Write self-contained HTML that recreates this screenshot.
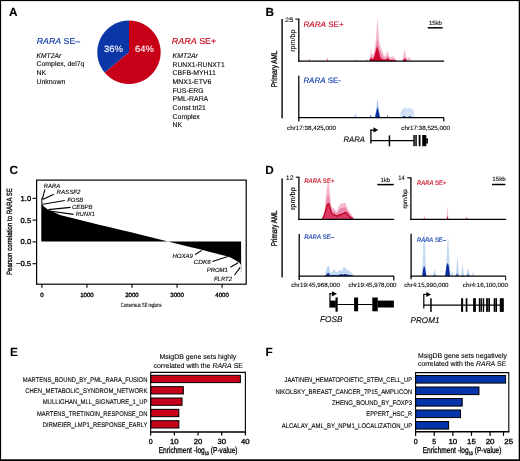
<!DOCTYPE html><html><head><meta charset="utf-8"><title>Figure</title><style>html,body{margin:0;padding:0;background:#fff;}.b{stroke-width:0.3px}svg{display:block;will-change:transform;text-rendering:geometricPrecision;font-family:"Liberation Sans",sans-serif;}</style></head><body>
<svg width="520" height="461" viewBox="0 0 520 461">
<rect x="0" y="0" width="520" height="461" fill="#fff"/>
<text stroke="#000" stroke-width="0.1" x="9.1" y="15.8" font-size="11.8" fill="#000" font-weight="bold">A</text>
<text stroke="#000" stroke-width="0.1" x="265.4" y="15.6" font-size="11.8" fill="#000" font-weight="bold">B</text>
<text stroke="#000" stroke-width="0.1" x="9.4" y="173.9" font-size="11.8" fill="#000" font-weight="bold">C</text>
<text stroke="#000" stroke-width="0.1" x="265.2" y="174.1" font-size="11.8" fill="#000" font-weight="bold">D</text>
<text stroke="#000" stroke-width="0.1" x="10" y="356.1" font-size="11.8" fill="#000" font-weight="bold">E</text>
<text stroke="#000" stroke-width="0.1" x="265.4" y="356.1" font-size="11.8" fill="#000" font-weight="bold">F</text>
<path d="M129,52.3 L129,20.6 A31.7,31.7 0 1 1 104.57,72.51 Z" fill="#C70018"/>
<path d="M129,52.3 L104.57,72.51 A31.7,31.7 0 0 1 129,20.6 Z" fill="#0B36A8"/>
<text stroke="#fff" stroke-width="0.1" x="103.9" y="51.7" font-size="9.4" fill="#fff" textLength="19" lengthAdjust="spacingAndGlyphs">36%</text>
<text stroke="#fff" stroke-width="0.1" x="135.1" y="51.7" font-size="9.4" fill="#fff" textLength="18.8" lengthAdjust="spacingAndGlyphs">64%</text>
<text stroke="#0B36A8" stroke-width="0.1" x="36.8" y="43.9" font-size="8.6" fill="#0B36A8" textLength="43.3" lengthAdjust="spacingAndGlyphs"><tspan font-style="italic">RARA</tspan> SE–</text>
<text stroke="#C70018" stroke-width="0.1" x="171.8" y="44.1" font-size="8.6" fill="#C70018" textLength="44.5" lengthAdjust="spacingAndGlyphs"><tspan font-style="italic">RARA</tspan> SE+</text>
<text stroke="#000" stroke-width="0.1" x="36.5" y="57.7" font-size="6.9" fill="#000" font-style="italic" textLength="24.7" lengthAdjust="spacingAndGlyphs">KMT2Ar</text>
<text stroke="#000" stroke-width="0.1" x="36.5" y="66.33" font-size="6.9" fill="#000" textLength="47.9" lengthAdjust="spacingAndGlyphs">Complex, del7q</text>
<text stroke="#000" stroke-width="0.1" x="36.5" y="74.96" font-size="6.9" fill="#000">NK</text>
<text stroke="#000" stroke-width="0.1" x="36.5" y="83.59" font-size="6.9" fill="#000">Unknown</text>
<text stroke="#000" stroke-width="0.1" x="172.6" y="58.1" font-size="6.9" fill="#000" font-style="italic">KMT2Ar</text>
<text stroke="#000" stroke-width="0.1" x="172.6" y="66.73" font-size="6.9" fill="#000" textLength="52.1" lengthAdjust="spacingAndGlyphs">RUNX1-RUNXT1</text>
<text stroke="#000" stroke-width="0.1" x="172.6" y="75.36" font-size="6.9" fill="#000">CBFB-MYH11</text>
<text stroke="#000" stroke-width="0.1" x="172.6" y="83.99" font-size="6.9" fill="#000">MNX1-ETV6</text>
<text stroke="#000" stroke-width="0.1" x="172.6" y="92.62" font-size="6.9" fill="#000">FUS-ERG</text>
<text stroke="#000" stroke-width="0.1" x="172.6" y="101.25" font-size="6.9" fill="#000">PML-RARA</text>
<text stroke="#000" stroke-width="0.1" x="172.6" y="109.88" font-size="6.9" fill="#000">Const tri21</text>
<text stroke="#000" stroke-width="0.1" x="172.6" y="118.51" font-size="6.9" fill="#000">Complex</text>
<text stroke="#000" stroke-width="0.1" x="172.6" y="127.14" font-size="6.9" fill="#000">NK</text>
<line x1="282.1" y1="19.1" x2="282.1" y2="118.3" stroke="#000" stroke-width="1.4"/>
<text stroke="#000" stroke-width="0.1" class="b" transform="translate(277.1,68.9) rotate(-90)" x="0" y="0" font-size="8.4" fill="#000" text-anchor="middle" textLength="36.6" lengthAdjust="spacingAndGlyphs">Primary AML</text>
<path d="M369.3,61.1 L369.3,61 L370.4,56.2 L371.2,46.5 L371.8,55.1 L373.7,54 L375.3,45.4 L376.4,31.3 L377.5,17.7 L378.6,31.3 L379.6,43.2 L381.3,48.6 L382.4,50.8 L384,56.2 L386.1,55.1 L387.8,50.2 L388.9,56.2 L391,57.3 L393.7,56.2 L395.9,59.5 L397.5,61 L397.5,61.1 Z" fill="#F6BCD2"/>
<path d="M369.6,61.1 L369.6,61 L370.6,58 L371.2,52 L371.8,57.5 L373.7,57 L375.3,51 L376.4,44 L377.3,38 L378.4,44 L379.6,50 L381.3,53.5 L382.4,55.5 L384,58.5 L386.1,58 L387.8,55 L388.9,58.5 L391,59.3 L393.7,58.8 L396,61 L396,61.1 Z" fill="#EA82A8"/>
<path d="M369.3,61.1 L369.3,61 L370.4,57.8 L371.5,59 L373.7,58.5 L375.8,50.8 L377.1,46.5 L378.6,50.8 L380.2,57.3 L382.4,59.5 L386.7,59.6 L387.8,57.8 L389.4,59.8 L395.9,60.5 L396.5,61 L396.5,61.1 Z" fill="#D0002C"/>
<path d="M402.2,61.1 L402.2,61 L403,57 L404.6,49.2 L406,55.5 L407.8,59 L409.5,56.8 L411.1,60.2 L412,61 L412,61.1 Z" fill="#F6BCD2"/>
<path d="M402.6,61.1 L402.6,61 L403.5,59.5 L404.9,58.2 L406.2,59.6 L407,61 L407,61.1 Z" fill="#D0002C"/>
<path d="M308.6,61.1 L308.6,61.1 L309.4,57.9 L310.2,61.1 L310.2,61.1 Z" fill="#EA82A8"/>
<path d="M326.5,61.1 L326.5,61.1 L327.3,56.9 L328.1,61.1 L328.1,61.1 Z" fill="#EA82A8"/>
<path d="M355.1,61.1 L355.1,61.1 L355.9,59.1 L356.7,61.1 L356.7,61.1 Z" fill="#EA82A8"/>
<path d="M366.1,61.1 L366.1,61.1 L366.9,58.9 L367.7,61.1 L367.7,61.1 Z" fill="#EA82A8"/>
<line x1="298.8" y1="19.1" x2="298.8" y2="61.8" stroke="#000" stroke-width="1.3"/>
<line x1="295.3" y1="19.1" x2="299.4" y2="19.1" stroke="#000" stroke-width="1.1"/>
<line x1="298.2" y1="61.1" x2="444.1" y2="61.1" stroke="#000" stroke-width="1.4"/>
<text stroke="#000" stroke-width="0.1" x="285.1" y="21.7" font-size="6.3" fill="#000" textLength="8.1" lengthAdjust="spacingAndGlyphs">25</text>
<text stroke="#000" stroke-width="0.1" class="" transform="translate(295.3,40.6) rotate(-90)" x="0" y="0" font-size="7" fill="#000" text-anchor="middle" textLength="22.4" lengthAdjust="spacingAndGlyphs">rpm/bp</text>
<text stroke="#C70018" stroke-width="0.1" x="303.4" y="26.8" font-size="7.8" fill="#C70018" textLength="40.3" lengthAdjust="spacingAndGlyphs"><tspan font-style="italic">RARA</tspan> SE+</text>
<text stroke="#000" stroke-width="0.1" x="428.9" y="24.7" font-size="6" fill="#000" textLength="13" lengthAdjust="spacingAndGlyphs">15kb</text>
<line x1="427.8" y1="27.8" x2="442.6" y2="27.8" stroke="#000" stroke-width="1.5"/>
<path d="M354.2,117.5 L354.2,117.5 L355,114.5 L355.5,113.3 L356,114.5 L356.8,117.5 L356.8,117.5 Z" fill="#B3CDEE"/>
<path d="M374.6,117.5 L374.6,117.5 L376.2,109 L377.1,101 L377.5,99.2 L377.9,101 L378.8,109 L380.4,117.5 L380.4,117.5 Z" fill="#A9C6EC"/>
<path d="M375,117.5 L375,117.5 L376.3,112 L377.1,108.5 L377.5,107.5 L377.9,108.5 L378.7,112 L379.9,117.5 L379.9,117.5 Z" fill="#0A2FA0"/>
<path d="M370.1,117.5 L370.1,117.5 L370.8,114.6 L371.5,117.5 L371.5,117.5 Z" fill="#0A2FA0"/>
<path d="M386.7,117.5 L386.7,117.5 L387.4,115.1 L388.1,117.5 L388.1,117.5 Z" fill="#0A2FA0"/>
<path d="M400,117.5 L400,117.5 L400.6,112.5 L401.5,114 L402.5,109.5 L403.5,112 L404.6,107.5 L405.8,110.5 L407,108.5 L408,111 L409.4,107.7 L410.5,110.5 L411.5,109 L412.1,109.8 L413,112 L414,111.5 L414.7,117.5 L414.7,117.5 Z" fill="#DCE8F7"/>
<path d="M400.6,112.5 L401.5,114 L402.5,109.5 L403.5,112 L404.6,107.5 L405.8,110.5 L407,108.5 L408,111 L409.4,107.7 L410.5,110.5 L411.5,109 L412.1,109.8 L413,112 L414,111.5" fill="none" stroke="#B5CFEF" stroke-width="0.6" stroke-linejoin="round"/>
<line x1="402.5" y1="110" x2="402.5" y2="117.5" stroke="#B5CFEF" stroke-width="0.5"/>
<line x1="404.6" y1="108" x2="404.6" y2="117.5" stroke="#B5CFEF" stroke-width="0.5"/>
<line x1="407" y1="109" x2="407" y2="117.5" stroke="#B5CFEF" stroke-width="0.5"/>
<line x1="409.4" y1="108.2" x2="409.4" y2="117.5" stroke="#B5CFEF" stroke-width="0.5"/>
<line x1="411.5" y1="109.5" x2="411.5" y2="117.5" stroke="#B5CFEF" stroke-width="0.5"/>
<line x1="412.1" y1="110.3" x2="412.1" y2="117.5" stroke="#B5CFEF" stroke-width="0.5"/>
<path d="M402.6,117.5 L402.6,117.5 L403.5,116 L405.2,116.2 L406,117.5 L406,117.5 Z" fill="#0A2FA0"/>
<path d="M408,117.5 L408,117.5 L409,116.2 L410.5,116.2 L411.2,117.5 L411.2,117.5 Z" fill="#0A2FA0"/>
<line x1="298.8" y1="75.7" x2="298.8" y2="121.6" stroke="#000" stroke-width="1.3"/>
<line x1="298.2" y1="117.6" x2="443.8" y2="117.6" stroke="#000" stroke-width="1.4"/>
<line x1="443.8" y1="117.5" x2="443.8" y2="121.4" stroke="#000" stroke-width="1.2"/>
<text stroke="#0B36A8" stroke-width="0.1" x="303.4" y="83.4" font-size="7.8" fill="#0B36A8" textLength="37.5" lengthAdjust="spacingAndGlyphs"><tspan font-style="italic">RARA</tspan> SE-</text>
<text stroke="#000" stroke-width="0.1" x="287" y="129.5" font-size="6.1" fill="#000" textLength="48.9" lengthAdjust="spacingAndGlyphs">chr17:38,425,000</text>
<text stroke="#000" stroke-width="0.1" x="401.3" y="129.5" font-size="6.1" fill="#000" textLength="48.7" lengthAdjust="spacingAndGlyphs">chr17:38,525,000</text>
<text stroke="#000" stroke-width="0.1" x="343.5" y="141.7" font-size="8" fill="#000" font-style="italic" textLength="21.3" lengthAdjust="spacingAndGlyphs">RARA</text>
<line x1="370.9" y1="129.6" x2="370.9" y2="143.5" stroke="#000" stroke-width="1.3"/>
<line x1="370.3" y1="130.2" x2="374.5" y2="130.2" stroke="#000" stroke-width="1.2"/>
<path d="M373.5,127.3 L378.2,129.9 L373.5,132.5 Z" fill="#000"/>
<line x1="370.9" y1="140.6" x2="413.8" y2="140.6" stroke="#000" stroke-width="1.3"/>
<rect x="388.7" y="135.4" width="1.5" height="10.9" fill="#000"/>
<rect x="413.3" y="135" width="1.5" height="11.2" fill="#000"/>
<rect x="415.3" y="135" width="1.5" height="11.2" fill="#000"/>
<rect x="418.7" y="135" width="1.8" height="11.2" fill="#000"/>
<rect x="422.2" y="135" width="4.1" height="11.2" fill="#000"/>
<rect x="426.2" y="138.3" width="1.7" height="5.2" fill="#000"/>
<path d="M41.3,241.5 L41.3,197.9 L42,198.2 L42.3,204 L43,205.5 L44.5,207 L47.8,209.6 L51,210.9 L54.3,212.5 L57.5,213.8 L60,215.1 L70,217.6 L80,220 L90,222.5 L100,224.9 L110,227.3 L120,229.7 L130,232.1 L140,234.6 L150,237 L160,239.6 L167,241.3 L180,244.4 L190,246.9 L201,249.6 L210,251.9 L220,254.4 L227.1,256.2 L231,257.8 L235.3,260.2 L238,261.8 L239.4,262.7 L240.5,264 L241.1,265.3 L241.1,241.5 Z" fill="#000"/>
<line x1="241.2" y1="264" x2="241.2" y2="272.5" stroke="#999" stroke-width="0.6"/>
<rect x="41.3" y="197.8" width="1" height="6.5" fill="#555"/>
<rect x="36.6" y="180.1" width="209.6" height="104.1" fill="none" stroke="#000" stroke-width="1.2"/>
<line x1="32.5" y1="198.3" x2="36.6" y2="198.3" stroke="#000" stroke-width="1.1"/>
<text stroke="#000" stroke-width="0.1" x="31.2" y="200.7" font-size="7.2" fill="#000" text-anchor="end" textLength="10.6" lengthAdjust="spacingAndGlyphs" class="b">1.0</text>
<line x1="32.5" y1="220.1" x2="36.6" y2="220.1" stroke="#000" stroke-width="1.1"/>
<text stroke="#000" stroke-width="0.1" x="31.2" y="222.5" font-size="7.2" fill="#000" text-anchor="end" textLength="10.6" lengthAdjust="spacingAndGlyphs" class="b">0.5</text>
<line x1="32.5" y1="241.9" x2="36.6" y2="241.9" stroke="#000" stroke-width="1.1"/>
<text stroke="#000" stroke-width="0.1" x="31.2" y="244.3" font-size="7.2" fill="#000" text-anchor="end" textLength="10.6" lengthAdjust="spacingAndGlyphs" class="b">0.0</text>
<line x1="32.5" y1="263.7" x2="36.6" y2="263.7" stroke="#000" stroke-width="1.1"/>
<text stroke="#000" stroke-width="0.1" x="31.2" y="266.1" font-size="7.2" fill="#000" text-anchor="end" textLength="15.3" lengthAdjust="spacingAndGlyphs" class="b">−0.5</text>
<line x1="41.9" y1="284.2" x2="41.9" y2="287.8" stroke="#000" stroke-width="1.1"/>
<text stroke="#000" stroke-width="0.1" x="41.9" y="297.1" font-size="6.1" fill="#000" text-anchor="middle" textLength="3.4" lengthAdjust="spacingAndGlyphs" class="b">0</text>
<line x1="86.95" y1="284.2" x2="86.95" y2="287.8" stroke="#000" stroke-width="1.1"/>
<text stroke="#000" stroke-width="0.1" x="86.95" y="297.1" font-size="6.1" fill="#000" text-anchor="middle" textLength="13.5" lengthAdjust="spacingAndGlyphs" class="b">1000</text>
<line x1="132" y1="284.2" x2="132" y2="287.8" stroke="#000" stroke-width="1.1"/>
<text stroke="#000" stroke-width="0.1" x="132" y="297.1" font-size="6.1" fill="#000" text-anchor="middle" textLength="13.5" lengthAdjust="spacingAndGlyphs" class="b">2000</text>
<line x1="177.05" y1="284.2" x2="177.05" y2="287.8" stroke="#000" stroke-width="1.1"/>
<text stroke="#000" stroke-width="0.1" x="177.05" y="297.1" font-size="6.1" fill="#000" text-anchor="middle" textLength="13.5" lengthAdjust="spacingAndGlyphs" class="b">3000</text>
<line x1="222.1" y1="284.2" x2="222.1" y2="287.8" stroke="#000" stroke-width="1.1"/>
<text stroke="#000" stroke-width="0.1" x="222.1" y="297.1" font-size="6.1" fill="#000" text-anchor="middle" textLength="13.5" lengthAdjust="spacingAndGlyphs" class="b">4000</text>
<text stroke="#000" stroke-width="0.1" x="120.8" y="306.6" font-size="6" fill="#000" textLength="40.8" lengthAdjust="spacingAndGlyphs">Consensus SE regions</text>
<text stroke="#000" stroke-width="0.1" class="b" transform="translate(12.4,231.6) rotate(-90)" x="0" y="0" font-size="7.6" fill="#000" text-anchor="middle" textLength="86.8" lengthAdjust="spacingAndGlyphs">Pearson correlation to RARA SE</text>
<text stroke="#000" stroke-width="0.1" x="43.8" y="187.8" font-size="6" fill="#000" font-style="italic" textLength="16.4" lengthAdjust="spacingAndGlyphs">RARA</text>
<text stroke="#000" stroke-width="0.1" x="56.5" y="194.4" font-size="6" fill="#000" font-style="italic" textLength="23.9" lengthAdjust="spacingAndGlyphs">RASSF2</text>
<text stroke="#000" stroke-width="0.1" x="67.2" y="201.7" font-size="6" fill="#000" font-style="italic" textLength="16.1" lengthAdjust="spacingAndGlyphs">FOSB</text>
<text stroke="#000" stroke-width="0.1" x="72" y="209.2" font-size="6" fill="#000" font-style="italic" textLength="20.5" lengthAdjust="spacingAndGlyphs">CEBPB</text>
<text stroke="#000" stroke-width="0.1" x="75.8" y="215.8" font-size="6" fill="#000" font-style="italic" textLength="19" lengthAdjust="spacingAndGlyphs">RUNX1</text>
<text stroke="#000" stroke-width="0.1" x="172.4" y="257.8" font-size="6" fill="#000" font-style="italic" textLength="20.4" lengthAdjust="spacingAndGlyphs">HOXA9</text>
<text stroke="#000" stroke-width="0.1" x="193.6" y="263.5" font-size="6" fill="#000" font-style="italic" textLength="17.2" lengthAdjust="spacingAndGlyphs">CDK6</text>
<text stroke="#000" stroke-width="0.1" x="206.7" y="271.7" font-size="6" fill="#000" font-style="italic" textLength="21.2" lengthAdjust="spacingAndGlyphs">PROM1</text>
<text stroke="#000" stroke-width="0.1" x="214" y="280.7" font-size="6" fill="#000" font-style="italic" textLength="18" lengthAdjust="spacingAndGlyphs">FLRT2</text>
<line x1="42.4" y1="198.8" x2="44.9" y2="189.3" stroke="#000" stroke-width="1.1"/>
<line x1="42.6" y1="199.6" x2="53.9" y2="194.2" stroke="#000" stroke-width="1.1"/>
<line x1="42.8" y1="204.2" x2="64.8" y2="200.5" stroke="#000" stroke-width="1.1"/>
<line x1="48.4" y1="209.6" x2="70.6" y2="207.4" stroke="#000" stroke-width="1.1"/>
<line x1="49.3" y1="211" x2="73.5" y2="214.4" stroke="#000" stroke-width="1.1"/>
<line x1="195.2" y1="254.5" x2="201.8" y2="250.4" stroke="#000" stroke-width="1.1"/>
<line x1="212.4" y1="261.4" x2="227.9" y2="256.5" stroke="#000" stroke-width="1.1"/>
<line x1="230.4" y1="267.3" x2="238.2" y2="262.7" stroke="#000" stroke-width="1.1"/>
<line x1="234.5" y1="275" x2="240.2" y2="267.3" stroke="#000" stroke-width="1.1"/>
<line x1="282.1" y1="178.6" x2="282.1" y2="277.6" stroke="#000" stroke-width="1.4"/>
<text stroke="#000" stroke-width="0.1" class="b" transform="translate(277.1,228.3) rotate(-90)" x="0" y="0" font-size="8.4" fill="#000" text-anchor="middle" textLength="35.8" lengthAdjust="spacingAndGlyphs">Primary AML</text>
<path d="M321.7,219.4 L321.7,219.4 L323.5,214.5 L324.6,209.5 L325.5,200 L326.5,189.5 L327.5,184 L328.4,181.8 L329.2,184 L329.8,192.3 L330.5,200 L331.2,205.7 L332.5,207.5 L334.1,208.6 L335.5,210.5 L337,211.4 L338.5,207 L339.8,204.7 L341.2,203.5 L342.7,203.3 L344.2,202.8 L345.6,203.3 L346.5,205.5 L347.5,208.6 L349.5,211.5 L351.3,214.3 L353,216.5 L354.2,218.1 L355,219.4 L355,219.4 Z" fill="#F6BCD2"/>
<path d="M322,219.4 L322,219.4 L323.5,216 L324.6,212.5 L325.5,207 L326.5,200 L327.5,196 L328.4,195 L329.2,197 L329.8,201 L330.5,205.5 L331.2,208.5 L332.5,210.5 L334.1,211.5 L335.5,212.8 L337,213.2 L338.5,211 L339.8,209 L341.2,208 L342.7,207.8 L344.2,207.2 L345.6,207.8 L347.5,211 L349.5,213.5 L351.3,215.8 L353,217.5 L354.5,219.4 L354.5,219.4 Z" fill="#EA86AA"/>
<path d="M322.3,219.4 L322.3,219 L323.8,216.5 L325.5,211.4 L326.5,207.5 L327.4,204.7 L328.4,203.8 L329.2,204.6 L329.8,206.7 L330.5,209.8 L331.2,212.6 L332.5,214 L334.1,214.8 L335.5,215.6 L337,216 L338.5,215.3 L339.8,214.8 L341.2,214.3 L342.7,213.8 L344.2,213 L345.6,212.4 L346.8,213.2 L348,215.2 L349.5,216.6 L351.3,218.1 L353,218.9 L353,219.4 Z" fill="#DA3A69"/>
<path d="M322.3,219 L323.8,216.5 L325.5,211.4 L326.5,207.5 L327.4,204.7 L328.4,203.8 L329.2,204.6 L329.8,206.7 L330.5,209.8 L331.2,212.6 L332.5,214 L334.1,214.8 L335.5,215.6 L337,216 L338.5,215.3 L339.8,214.8 L341.2,214.3 L342.7,213.8 L344.2,213 L345.6,212.4 L346.8,213.2 L348,215.2 L349.5,216.6 L351.3,218.1 L353,218.9" fill="none" stroke="#C4001E" stroke-width="1.3" stroke-linejoin="round"/>
<path d="M357.5,219.4 L357.5,219.4 L358.5,218.6 L359.5,219.4 L359.5,219.4 Z" fill="#EA82A8"/>
<path d="M362,219.4 L362,219.4 L363,218.6 L364,219.4 L364,219.4 Z" fill="#EA82A8"/>
<path d="M367,219.4 L367,219.4 L368,218.8 L369,219.4 L369,219.4 Z" fill="#EA82A8"/>
<line x1="298.9" y1="177.2" x2="298.9" y2="220.1" stroke="#000" stroke-width="1.3"/>
<line x1="295.8" y1="177.2" x2="299.5" y2="177.2" stroke="#000" stroke-width="1.1"/>
<line x1="298.3" y1="219.4" x2="394.2" y2="219.4" stroke="#000" stroke-width="1.3"/>
<text stroke="#000" stroke-width="0.1" x="285.8" y="180.2" font-size="6.6" fill="#000" textLength="7.8" lengthAdjust="spacingAndGlyphs">12</text>
<text stroke="#000" stroke-width="0.1" class="" transform="translate(295.3,198.7) rotate(-90)" x="0" y="0" font-size="7" fill="#000" text-anchor="middle" textLength="22.8" lengthAdjust="spacingAndGlyphs">rpm/bp</text>
<text stroke="#C70018" stroke-width="0.1" x="304.2" y="182.7" font-size="6.4" fill="#C70018" textLength="30.4" lengthAdjust="spacingAndGlyphs"><tspan font-style="italic">RARA</tspan> SE+</text>
<text stroke="#000" stroke-width="0.1" x="380.8" y="181.5" font-size="6" fill="#000" textLength="9.6" lengthAdjust="spacingAndGlyphs">1kb</text>
<line x1="377.3" y1="184.6" x2="393.8" y2="184.6" stroke="#000" stroke-width="1.5"/>
<path d="M324.3,276.1 L324.3,276.1 L325.5,274.5 L326.5,270.7 L327.4,267.5 L328.2,266 L329,267.5 L329.4,270.7 L330.5,272.5 L331.5,273.7 L332.8,271.5 L334.1,269.4 L335.2,271.5 L336.2,273.2 L337.1,272.8 L337.9,272 L339,271 L340,270.3 L341,271.2 L341.7,271.5 L343,269 L344.2,267.1 L345.3,268.5 L346.3,269.8 L347.8,270.5 L349.3,271.1 L350.5,272.5 L351.8,273.7 L353.2,274.8 L354.4,276.1 L354.4,276.1 Z" fill="#C4DAF3"/>
<path d="M325.5,274.5 L326.5,270.7 L327.4,267.5 L328.2,266 L329,267.5 L329.4,270.7 L330.5,272.5 L331.5,273.7 L332.8,271.5 L334.1,269.4 L335.2,271.5 L336.2,273.2 L337.1,272.8 L337.9,272 L339,271 L340,270.3 L341,271.2 L341.7,271.5 L343,269 L344.2,267.1 L345.3,268.5 L346.3,269.8 L347.8,270.5 L349.3,271.1 L350.5,272.5 L351.8,273.7 L353.2,274.8" fill="none" stroke="#9EC0EA" stroke-width="0.5" stroke-linejoin="round"/>
<path d="M325,276.1 L325,276.1 L326.5,274.6 L327.4,273.4 L328.2,272.8 L329,273.6 L329.8,275.2 L331.5,275.3 L333.2,274.9 L335,275.3 L337,275.2 L339.2,274.9 L340.4,273.9 L342,274.6 L343.5,274.5 L345.1,274.1 L347,274.6 L349.5,274.9 L351.8,275.3 L353,276.1 L353,276.1 Z" fill="#0A2FA0"/>
<line x1="299.2" y1="234.1" x2="299.2" y2="280" stroke="#000" stroke-width="1.3"/>
<line x1="298.6" y1="276.1" x2="394" y2="276.1" stroke="#000" stroke-width="1.3"/>
<line x1="393.8" y1="276.1" x2="393.8" y2="280.4" stroke="#000" stroke-width="1.2"/>
<text stroke="#0B36A8" stroke-width="0.1" x="304.2" y="239.2" font-size="6.4" fill="#0B36A8" textLength="30" lengthAdjust="spacingAndGlyphs"><tspan font-style="italic">RARA</tspan> SE–</text>
<text stroke="#000" stroke-width="0.1" x="291.2" y="286.9" font-size="6.1" fill="#000" textLength="48.8" lengthAdjust="spacingAndGlyphs">chr19:45,968,000</text>
<text stroke="#000" stroke-width="0.1" x="348.5" y="286.9" font-size="6.1" fill="#000" textLength="48" lengthAdjust="spacingAndGlyphs">chr19:45,978,000</text>
<line x1="329.95" y1="293.5" x2="329.95" y2="301" stroke="#000" stroke-width="1.2"/>
<line x1="329.4" y1="293.75" x2="333" y2="293.75" stroke="#000" stroke-width="1.1"/>
<path d="M332.0,291.2 L337.0,293.8 L332.0,296.5 Z" fill="#000"/>
<rect x="329.4" y="300.6" width="6.4" height="7" fill="#000"/>
<rect x="335.5" y="297.4" width="2.2" height="14.3" fill="#000"/>
<line x1="337.6" y1="304.5" x2="372.5" y2="304.5" stroke="#000" stroke-width="1.2"/>
<rect x="354.1" y="297.5" width="4" height="13.8" fill="#000"/>
<rect x="372.3" y="297.5" width="5.5" height="13.8" fill="#000"/>
<rect x="377.8" y="300.6" width="16.1" height="6.9" fill="#000"/>
<text stroke="#000" stroke-width="0.1" x="320" y="322.2" font-size="8.2" fill="#000" font-style="italic" textLength="22.5" lengthAdjust="spacingAndGlyphs">FOSB</text>
<path d="M446.5,219.4 L446.5,219.4 L447,212 L447.5,206.5 L448,212 L448.5,219.4 L448.5,219.4 Z" fill="#F6BCD2"/>
<path d="M446.7,219.4 L446.7,219.4 L447.5,215.7 L448.3,219.4 L448.3,219.4 Z" fill="#D0002C"/>
<path d="M423.4,219.4 L423.4,219.4 L424.3,215.7 L425.2,219.4 L425.2,219.4 Z" fill="#EA82A8"/>
<path d="M433.5,219.4 L433.5,219.4 L434.4,218.5 L435.3,219.4 L435.3,219.4 Z" fill="#EA82A8"/>
<path d="M456.5,219.4 L456.5,219.4 L457.4,218.5 L458.3,219.4 L458.3,219.4 Z" fill="#EA82A8"/>
<path d="M465.3,219.4 L465.3,219.4 L466.2,216 L467.1,219.4 L467.1,219.4 Z" fill="#EA82A8"/>
<path d="M466.8,219.4 L466.8,219.4 L467.7,217.4 L468.6,219.4 L468.6,219.4 Z" fill="#EA82A8"/>
<path d="M439.6,219.4 L439.6,219.4 L440.5,218.9 L441.4,219.4 L441.4,219.4 Z" fill="#EA82A8"/>
<line x1="410.9" y1="177.8" x2="410.9" y2="220" stroke="#000" stroke-width="1.3"/>
<line x1="407.2" y1="177.8" x2="411.5" y2="177.8" stroke="#000" stroke-width="1.1"/>
<line x1="410.3" y1="219.4" x2="506.2" y2="219.4" stroke="#000" stroke-width="1.3"/>
<text stroke="#000" stroke-width="0.1" x="398.2" y="180.1" font-size="6.6" fill="#000" textLength="6.5" lengthAdjust="spacingAndGlyphs">14</text>
<text stroke="#000" stroke-width="0.1" class="" transform="translate(407.2,198.9) rotate(-90)" x="0" y="0" font-size="6.2" fill="#000" text-anchor="middle" textLength="19.2" lengthAdjust="spacingAndGlyphs">rpm/bp</text>
<text stroke="#C70018" stroke-width="0.1" x="416.9" y="185.2" font-size="6.4" fill="#C70018" textLength="29.6" lengthAdjust="spacingAndGlyphs"><tspan font-style="italic">RARA</tspan> SE+</text>
<text stroke="#000" stroke-width="0.1" x="492.3" y="181.2" font-size="6" fill="#000" textLength="13.5" lengthAdjust="spacingAndGlyphs">15kb</text>
<line x1="492" y1="184.5" x2="505.4" y2="184.5" stroke="#000" stroke-width="1.5"/>
<path d="M421.8,276.1 L421.8,276.1 L422.6,265.08 L423.85,233 L424.2,232 L424.55,233 L425.8,265.08 L426.6,276.1 L426.6,276.1 Z" fill="#C4DAF3"/>
<path d="M445.3,276.1 L445.3,276.1 L446.1,266.38 L447.55,238.2 L447.9,237.2 L448.25,238.2 L449.7,266.38 L450.5,276.1 L450.5,276.1 Z" fill="#C4DAF3"/>
<path d="M455.3,276.1 L455.3,276.1 L456.1,271.58 L457.2,259 L457.5,258 L457.8,259 L458.9,271.58 L459.7,276.1 L459.7,276.1 Z" fill="#C4DAF3"/>
<path d="M460.5,276.1 L460.5,276.1 L461.3,273.3 L462.2,265.9 L462.5,264.9 L462.8,265.9 L463.7,273.3 L464.5,276.1 L464.5,276.1 Z" fill="#C4DAF3"/>
<path d="M465.9,276.1 L465.9,276.1 L466.7,274.03 L467.8,268.8 L468.1,267.8 L468.4,268.8 L469.5,274.03 L470.3,276.1 L470.3,276.1 Z" fill="#C4DAF3"/>
<path d="M432.6,276.1 L432.6,276.1 L433.4,274.33 L434.2,270 L434.6,269 L435,270 L435.8,274.33 L436.6,276.1 L436.6,276.1 Z" fill="#C4DAF3"/>
<path d="M450.2,276.1 L450.2,276.1 L451,274.83 L451.6,272 L452,271 L452.4,272 L453,274.83 L453.8,276.1 L453.8,276.1 Z" fill="#C4DAF3"/>
<path d="M471.3,276.1 L471.3,276.1 L472.1,275.08 L472.6,273 L473,272 L473.4,273 L473.9,275.08 L474.7,276.1 L474.7,276.1 Z" fill="#C4DAF3"/>
<path d="M422.1,276.1 L422.1,276.1 L423.35,268.1 L424.2,266.1 L425.05,268.1 L426.3,276.1 L426.3,276.1 Z" fill="#0A2FA0"/>
<path d="M445.1,276.1 L445.1,276.1 L446.55,265 L447.6,263 L448.65,265 L450.1,276.1 L450.1,276.1 Z" fill="#0A2FA0"/>
<path d="M455.5,276.1 L455.5,276.1 L456.5,275 L457.1,273 L457.7,275 L458.7,276.1 L458.7,276.1 Z" fill="#0A2FA0"/>
<path d="M466.5,276.1 L466.5,276.1 L467.5,275.6 L468.1,273.6 L468.7,275.6 L469.7,276.1 L469.7,276.1 Z" fill="#0A2FA0"/>
<path d="M433.2,276.1 L433.2,276.1 L434.1,276.1 L434.6,274.1 L435.1,276.1 L436,276.1 L436,276.1 Z" fill="#0A2FA0"/>
<path d="M461.6,276.1 L461.6,276.1 L462.5,276.8 L463,274.8 L463.5,276.8 L464.4,276.1 L464.4,276.1 Z" fill="#0A2FA0"/>
<line x1="411.1" y1="233.7" x2="411.1" y2="279.3" stroke="#000" stroke-width="1.3"/>
<line x1="410.5" y1="276.1" x2="505.7" y2="276.1" stroke="#000" stroke-width="1.3"/>
<line x1="505.7" y1="276.1" x2="505.7" y2="280.2" stroke="#000" stroke-width="1"/>
<text stroke="#0B36A8" stroke-width="0.1" x="417" y="241.5" font-size="6.4" fill="#0B36A8" textLength="29" lengthAdjust="spacingAndGlyphs"><tspan font-style="italic">RARA</tspan> SE–</text>
<text stroke="#000" stroke-width="0.1" x="404.2" y="286.8" font-size="6.1" fill="#000" textLength="44.3" lengthAdjust="spacingAndGlyphs">chr4:15,990,000</text>
<text stroke="#000" stroke-width="0.1" x="462.8" y="286.8" font-size="6.1" fill="#000" textLength="45.2" lengthAdjust="spacingAndGlyphs">chr4:16,100,000</text>
<line x1="423.8" y1="294" x2="423.8" y2="308.6" stroke="#000" stroke-width="1.2"/>
<line x1="423.2" y1="294.4" x2="427.5" y2="294.4" stroke="#000" stroke-width="1.1"/>
<path d="M426.3,292.1 L431.1,294.6 L426.3,297.1 Z" fill="#000"/>
<line x1="423.8" y1="305.2" x2="503.6" y2="305.2" stroke="#000" stroke-width="1.2"/>
<rect x="430.2" y="298.3" width="1.5" height="13.6" fill="#000"/>
<rect x="461.1" y="298.2" width="2" height="13.7" fill="#000"/>
<rect x="465.7" y="298.2" width="1.7" height="13.7" fill="#000"/>
<rect x="473.1" y="298.2" width="2.8" height="13.7" fill="#000"/>
<rect x="478.8" y="298.2" width="1.6" height="13.7" fill="#000"/>
<rect x="480.6" y="298.2" width="1.3" height="13.7" fill="#000"/>
<rect x="482.7" y="298.2" width="1.5" height="13.7" fill="#000"/>
<rect x="486.1" y="298.2" width="1.8" height="13.7" fill="#000"/>
<rect x="488.3" y="298.2" width="1.7" height="13.7" fill="#000"/>
<rect x="493.7" y="298.2" width="1.9" height="13.7" fill="#000"/>
<rect x="495.7" y="298.2" width="1.3" height="13.7" fill="#000"/>
<rect x="499.8" y="298.2" width="4" height="13.7" fill="#000"/>
<text stroke="#000" stroke-width="0.1" x="410.6" y="322.5" font-size="8.2" fill="#000" font-style="italic" textLength="28.8" lengthAdjust="spacingAndGlyphs">PROM1</text>
<text stroke="#000" stroke-width="0.1" x="159.5" y="358.6" font-size="6.95" fill="#000" textLength="76.8" lengthAdjust="spacingAndGlyphs">MsigDB gene sets highly</text>
<text stroke="#000" stroke-width="0.1" x="153.5" y="367.9" font-size="6.95" fill="#000" textLength="89.5" lengthAdjust="spacingAndGlyphs">correlated with the <tspan font-style="italic">RARA</tspan> SE</text>
<text stroke="#000" stroke-width="0.1" x="147.4" y="381.9" font-size="6.7" fill="#000" text-anchor="end" textLength="124.6" lengthAdjust="spacingAndGlyphs">MARTENS_BOUND_BY_PML_RARA_FUSION</text>
<rect x="150.7" y="375.3" width="89.68" height="7.3" fill="#C8001A" stroke="#000" stroke-width="1"/>
<text stroke="#000" stroke-width="0.1" x="147.4" y="393.1" font-size="6.7" fill="#000" text-anchor="end" textLength="122.2" lengthAdjust="spacingAndGlyphs">CHEN_METABOLIC_SYNDROM_NETWORK</text>
<rect x="150.7" y="386.65" width="32.64" height="7.3" fill="#C8001A" stroke="#000" stroke-width="1"/>
<text stroke="#000" stroke-width="0.1" x="147.4" y="404.3" font-size="6.7" fill="#000" text-anchor="end" textLength="104.7" lengthAdjust="spacingAndGlyphs">MULLIGHAN_MLL_SIGNATURE_1_UP</text>
<rect x="150.7" y="398" width="31.34" height="7.3" fill="#C8001A" stroke="#000" stroke-width="1"/>
<text stroke="#000" stroke-width="0.1" x="147.4" y="415.7" font-size="6.7" fill="#000" text-anchor="end" textLength="110.4" lengthAdjust="spacingAndGlyphs">MARTENS_TRETINOIN_RESPONSE_DN</text>
<rect x="150.7" y="409.35" width="28.14" height="7.3" fill="#C8001A" stroke="#000" stroke-width="1"/>
<text stroke="#000" stroke-width="0.1" x="147.4" y="426.8" font-size="6.7" fill="#000" text-anchor="end" textLength="104.6" lengthAdjust="spacingAndGlyphs">DIRMEIER_LMP1_RESPONSE_EARLY</text>
<rect x="150.7" y="420.7" width="28.14" height="7.3" fill="#C8001A" stroke="#000" stroke-width="1"/>
<path d="M150.7,371.8 L150.7,432 M245.4,432 L245.4,372.4 M245.9,372.4 L150.7,372.4" fill="none" stroke="#000" stroke-width="1.1"/>
<line x1="150.1" y1="432" x2="246.1" y2="432" stroke="#000" stroke-width="1.4"/>
<line x1="150.7" y1="432" x2="150.7" y2="435.6" stroke="#000" stroke-width="1.2"/>
<text stroke="#000" stroke-width="0.1" x="150.7" y="443.6" font-size="7.4" fill="#000" text-anchor="middle" textLength="3.9" lengthAdjust="spacingAndGlyphs" class="b">0</text>
<line x1="174.37" y1="432" x2="174.37" y2="435.6" stroke="#000" stroke-width="1.2"/>
<text stroke="#000" stroke-width="0.1" x="174.37" y="443.6" font-size="7.4" fill="#000" text-anchor="middle" textLength="8.6" lengthAdjust="spacingAndGlyphs" class="b">10</text>
<line x1="198.04" y1="432" x2="198.04" y2="435.6" stroke="#000" stroke-width="1.2"/>
<text stroke="#000" stroke-width="0.1" x="198.04" y="443.6" font-size="7.4" fill="#000" text-anchor="middle" textLength="8.6" lengthAdjust="spacingAndGlyphs" class="b">20</text>
<line x1="221.71" y1="432" x2="221.71" y2="435.6" stroke="#000" stroke-width="1.2"/>
<text stroke="#000" stroke-width="0.1" x="221.71" y="443.6" font-size="7.4" fill="#000" text-anchor="middle" textLength="8.6" lengthAdjust="spacingAndGlyphs" class="b">30</text>
<line x1="245.38" y1="432" x2="245.38" y2="435.6" stroke="#000" stroke-width="1.2"/>
<text stroke="#000" stroke-width="0.1" x="245.38" y="443.6" font-size="7.4" fill="#000" text-anchor="middle" textLength="8.6" lengthAdjust="spacingAndGlyphs" class="b">40</text>
<text stroke="#000" stroke-width="0.1" class="b" x="158.7" y="452.6" font-size="8.6" fill="#000" textLength="78.8" lengthAdjust="spacingAndGlyphs">Enrichment -log<tspan font-size="5" dy="2.8">10</tspan><tspan dy="-2.8"> (P-value)</tspan></text>
<text stroke="#000" stroke-width="0.1" x="418" y="358" font-size="6.95" fill="#000" textLength="88.9" lengthAdjust="spacingAndGlyphs">MsigDB gene sets negatively</text>
<text stroke="#000" stroke-width="0.1" x="418" y="366.0" font-size="6.95" fill="#000" textLength="88.3" lengthAdjust="spacingAndGlyphs">correlated with the <tspan font-style="italic">RARA</tspan> SE</text>
<text stroke="#000" stroke-width="0.1" x="412.2" y="382.4" font-size="6.7" fill="#000" text-anchor="end" textLength="127.7" lengthAdjust="spacingAndGlyphs">JAATINEN_HEMATOPOIETIC_STEM_CELL_UP</text>
<rect x="415.6" y="375.5" width="89.99" height="7.6" fill="#0433AA" stroke="#000" stroke-width="1"/>
<text stroke="#000" stroke-width="0.1" x="412.2" y="393.6" font-size="6.7" fill="#000" text-anchor="end" textLength="136.8" lengthAdjust="spacingAndGlyphs">NIKOLSKY_BREAST_CANCER_7P15_AMPLICON</text>
<rect x="415.6" y="387" width="63.37" height="7.6" fill="#0433AA" stroke="#000" stroke-width="1"/>
<text stroke="#000" stroke-width="0.1" x="412.2" y="404.9" font-size="6.7" fill="#000" text-anchor="end" textLength="80.3" lengthAdjust="spacingAndGlyphs">ZHENG_BOUND_BY_FOXP3</text>
<rect x="415.6" y="398.5" width="46.61" height="7.6" fill="#0433AA" stroke="#000" stroke-width="1"/>
<text stroke="#000" stroke-width="0.1" x="412.2" y="416.4" font-size="6.7" fill="#000" text-anchor="end" textLength="45.9" lengthAdjust="spacingAndGlyphs">EPPERT_HSC_R</text>
<rect x="415.6" y="410" width="44.93" height="7.6" fill="#0433AA" stroke="#000" stroke-width="1"/>
<text stroke="#000" stroke-width="0.1" x="412.2" y="427.8" font-size="6.7" fill="#000" text-anchor="end" textLength="130.4" lengthAdjust="spacingAndGlyphs">ALCALAY_AML_BY_NPM1_LOCALIZATION_UP</text>
<rect x="415.6" y="421.5" width="33.02" height="7.6" fill="#0433AA" stroke="#000" stroke-width="1"/>
<path d="M415.6,372.1 L415.6,431.7 M508.8,431.7 L508.8,372.6 M509.3,372.6 L415.6,372.6" fill="none" stroke="#000" stroke-width="1.1"/>
<line x1="415" y1="431.7" x2="509.5" y2="431.7" stroke="#000" stroke-width="1.4"/>
<line x1="415.6" y1="431.7" x2="415.6" y2="435.9" stroke="#000" stroke-width="1.2"/>
<text stroke="#000" stroke-width="0.1" x="415.6" y="443.5" font-size="7.4" fill="#000" text-anchor="middle" textLength="3.9" lengthAdjust="spacingAndGlyphs" class="b">0</text>
<line x1="434.22" y1="431.7" x2="434.22" y2="435.9" stroke="#000" stroke-width="1.2"/>
<text stroke="#000" stroke-width="0.1" x="434.22" y="443.5" font-size="7.4" fill="#000" text-anchor="middle" textLength="3.9" lengthAdjust="spacingAndGlyphs" class="b">5</text>
<line x1="452.84" y1="431.7" x2="452.84" y2="435.9" stroke="#000" stroke-width="1.2"/>
<text stroke="#000" stroke-width="0.1" x="452.84" y="443.5" font-size="7.4" fill="#000" text-anchor="middle" textLength="8.8" lengthAdjust="spacingAndGlyphs" class="b">10</text>
<line x1="471.46" y1="431.7" x2="471.46" y2="435.9" stroke="#000" stroke-width="1.2"/>
<text stroke="#000" stroke-width="0.1" x="471.46" y="443.5" font-size="7.4" fill="#000" text-anchor="middle" textLength="8.8" lengthAdjust="spacingAndGlyphs" class="b">15</text>
<line x1="490.08" y1="431.7" x2="490.08" y2="435.9" stroke="#000" stroke-width="1.2"/>
<text stroke="#000" stroke-width="0.1" x="490.08" y="443.5" font-size="7.4" fill="#000" text-anchor="middle" textLength="8.8" lengthAdjust="spacingAndGlyphs" class="b">20</text>
<line x1="503.5" y1="431.7" x2="503.5" y2="435.9" stroke="#000" stroke-width="1.2"/>
<text stroke="#000" stroke-width="0.1" x="508.7" y="443.5" font-size="7.4" fill="#000" text-anchor="middle" textLength="8.8" lengthAdjust="spacingAndGlyphs" class="b">25</text>
<text stroke="#000" stroke-width="0.1" class="b" x="422.7" y="452.5" font-size="8.6" fill="#000" textLength="78.7" lengthAdjust="spacingAndGlyphs">Enrichment -log<tspan font-size="5" dy="2.8">10</tspan><tspan dy="-2.8"> (P-value)</tspan></text>
<rect x="0" y="0" width="520" height="1.1" fill="#000"/>
<rect x="0" y="0" width="1.1" height="461" fill="#000"/>
<rect x="518.7" y="0" width="1.3" height="461" fill="#000"/>
<rect x="0" y="459.3" width="520" height="1.7" fill="#000"/>
</svg></body></html>
